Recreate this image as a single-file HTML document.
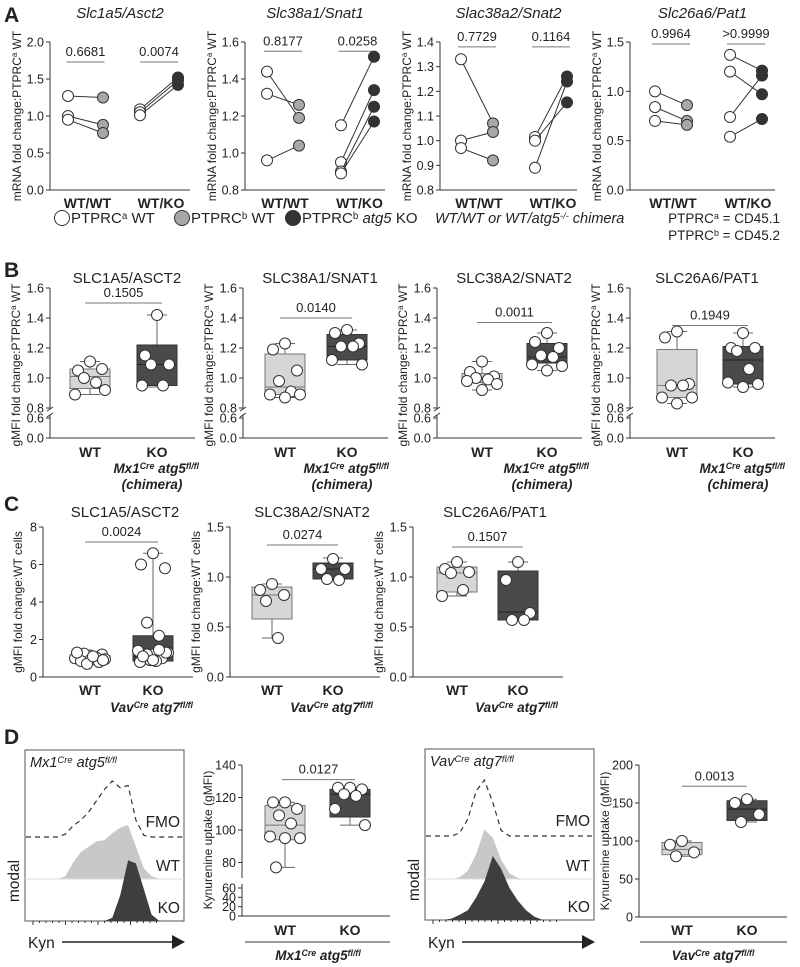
<!DOCTYPE html>
<html><head><meta charset="utf-8"><style>
html,body{margin:0;padding:0;background:#fff;}
svg{display:block;font-family:"Liberation Sans",Arial,sans-serif;}
</style></head><body>
<svg id="fig" width="800" height="967" viewBox="0 0 800 967" xmlns="http://www.w3.org/2000/svg"></svg>
<script>
// ---------- DATA ----------
const aTitles = ["Slc1a5/Asct2","Slc38a1/Snat1","Slac38a2/Snat2","Slc26a6/Pat1"];
const aP = [["0.6681","0.0074"],["0.8177","0.0258"],["0.7729","0.1164"],["0.9964",">0.9999"]];
const aPY = [1.73,1.55,1.38,1.48];
const aTicks = [[0,0.5,1.0,1.5,2.0],[0.8,1.0,1.2,1.4,1.6],[0.8,0.9,1.0,1.1,1.2,1.3,1.4],[0,0.5,1.0,1.5]];
const a1WT = [[1.27,1.25],[1.00,0.88],[0.95,0.77]];
const a1KO = [[1.09,1.52],[1.05,1.48],[1.01,1.42]];
const a2WT = [[1.44,1.19],[1.32,1.26],[0.96,1.04]];
const a2KO = [[1.15,1.52],[0.95,1.34],[0.90,1.25],[0.89,1.17]];
const a3WT = [[1.33,1.07],[1.00,1.035],[0.97,0.92]];
const a3KO = [[1.015,1.26],[1.00,1.155],[0.89,1.24]];
const a4WT = [[1.00,0.86],[0.84,0.70],[0.70,0.66]];
const a4KO = [[1.37,1.21],[1.20,0.97],[0.74,1.16],[0.54,0.72]];
const bTitles = ["SLC1A5/ASCT2","SLC38A1/SNAT1","SLC38A2/SNAT2","SLC26A6/PAT1"];
const bP = ["0.1505","0.0140","0.0011","0.1949"];
const bPY = [1.50,1.40,1.37,1.35];
const bBoxWT = [[0.89,0.93,1.01,1.06,1.11],[0.87,0.89,0.94,1.16,1.23],[0.92,0.97,0.99,1.03,1.11],[0.83,0.87,0.95,1.19,1.31]];
const bBoxKO = [[0.94,0.95,1.09,1.22,1.42],[1.09,1.12,1.21,1.29,1.32],[1.05,1.10,1.14,1.23,1.30],[0.94,0.96,1.12,1.21,1.30]];
const bPtsWT = [[1.11,1.05,1.06,1.00,0.97,0.89,0.92],[1.23,1.19,1.05,0.98,0.91,0.89,0.89,0.87],[1.11,1.04,1.01,1.00,0.99,0.98,0.96,0.92],[1.31,1.27,0.96,0.95,0.95,0.87,0.87,0.83]];
const bPtsKO = [[1.42,1.15,1.09,1.09,0.95,0.95],[1.32,1.30,1.23,1.21,1.21,1.12,1.09],[1.30,1.24,1.20,1.15,1.14,1.09,1.08,1.05],[1.30,1.20,1.20,1.18,1.06,0.97,0.96,0.94]];
const bTicksUp = [0.8,1.0,1.2,1.4,1.6];
const bTicksLow = [0.0,0.6];
const cTitles = ["SLC1A5/ASCT2","SLC38A2/SNAT2","SLC26A6/PAT1"];
const cP = ["0.0024","0.0274","0.1507"];
const cPY = [7.2,1.32,1.30];
const cMax = [8,1.5,1.5];
const cTicks = [[0,2,4,6,8],[0,0.5,1.0,1.5],[0,0.5,1.0,1.5]];
const cBoxWT = [[0.7,0.85,1.0,1.15,1.3],[0.39,0.58,0.82,0.90,0.93],[0.81,0.85,1.04,1.10,1.15]];
const cBoxKO = [[0.8,0.85,1.1,2.2,6.6],[0.97,0.98,1.08,1.14,1.19],[0.57,0.57,0.65,1.06,1.15]];
const cPtsWT = [[1.15,1.1,1.2,1.25,1.05,1.0,0.95,0.9,0.85,0.8,0.7,1.1,1.3,0.9],[0.93,0.87,0.82,0.76,0.39],[1.15,1.08,1.05,1.04,0.87,0.81]];
const cPtsKO = [[6.6,6.0,5.8,2.9,2.2,1.4,1.3,1.2,1.1,1.0,0.9,0.85,0.8,1.3,1.2,1.45,0.9,1.1],[1.18,1.08,1.08,0.98,0.97],[1.15,0.97,0.64,0.57,0.57]];
const dP = ["0.0127","0.0013"];
const dPY = [131,172];
const d1Box = [[77,94,103,115,117],[103,108,122,125,126]];
const d1Pts = [[117,117,113,109,104,96,95,95,77],[126,126,125,122,121,113,103]];
const d2Box = [[80,82,89,98,100],[125,127,142,153,155]];
const d2Pts = [[100,95,85,80],[155,150,135,125]];
const d1TicksUp = [80,100,120,140];
const d1TicksLow = [0,20,40,60];
const d2Ticks = [0,50,100,150,200];
const h1FMO = [0,0,0,0,0,0.05,0.2,0.3,0.45,0.65,0.85,1.0,0.88,0.92,0.3,0.03,0,0,0,0,0];
const h1WT  = [0,0,0,0,0,0.05,0.3,0.5,0.6,0.7,0.72,0.85,0.95,1.0,0.6,0.2,0.05,0,0,0,0];
const h1KO  = [0,0,0,0,0,0,0,0,0,0,0,0.05,0.4,0.95,0.9,0.5,0.1,0,0,0,0];
const h2FMO = [0,0,0,0,0.05,0.3,0.8,1.0,0.6,0.1,0,0,0,0,0,0,0,0,0,0,0];
const h2WT  = [0,0,0,0,0.03,0.15,0.45,0.9,0.75,0.35,0.1,0.02,0,0,0,0,0,0,0,0,0];
const h2KO  = [0,0,0,0.02,0.08,0.15,0.35,0.6,1.0,0.8,0.5,0.3,0.15,0.05,0,0,0,0,0,0,0];

// ---------- HELPERS ----------
const NS = "http://www.w3.org/2000/svg";
const svg = document.getElementById('fig');
const INK = "#222";
function el(tag, attrs, name) {
  const e = document.createElementNS(NS, tag);
  for (const k in attrs) e.setAttribute(k, attrs[k]);
  
  
  svg.appendChild(e);
  return e;
}
function txt(x, y, parts, o, name) {
  o = o || {};
  const t = el('text', {x: x, y: y, fill: INK, 'font-size': o.size || 12, 'text-anchor': o.anchor || 'start'}, name);
  if (o.weight) t.setAttribute('font-weight', o.weight);
  if (o.italic) t.setAttribute('font-style', 'italic');
  if (o.rot) t.setAttribute('transform', 'rotate(-90 ' + x + ' ' + y + ')');
  if (typeof parts === 'string') parts = [[parts]];
  parts.forEach(p => {
    const s = document.createElementNS(NS, 'tspan');
    s.textContent = p[0];
    if (p[1] === 'sup') { s.setAttribute('font-size', (o.size || 12) * 0.65); s.setAttribute('baseline-shift', '45%'); }
    t.appendChild(s);
  });
  return t;
}
function line(x1, y1, x2, y2, name, o) {
  o = o || {};
  return el('line', {x1: x1, y1: y1, x2: x2, y2: y2, stroke: o.c || '#333', 'stroke-width': o.w || 1, 'stroke-dasharray': o.dash || 'none'}, name);
}
function scale(d0, d1, p0, p1) { return v => p0 + (v - d0) / (d1 - d0) * (p1 - p0); }
function dot(x, y, fill, name) {
  return el('circle', {cx: x, cy: y, r: 5.5, fill: fill, stroke: '#333', 'stroke-width': 1}, name);
}
const jit = [0, -12, 12, -6, 6, -15, 15, 0, -9, 9, -3, 3, -13, 13, -6, 6, 0, -10];
function boxPlot(cx, y, box, pts, dark, name) {
  const w = 40, bw = 10;
  line(cx, y(box[0]), cx, y(box[4]), name + '-whisker', {c: '#666'});
  line(cx - bw, y(box[0]), cx + bw, y(box[0]), name + '-cap-min', {c: '#666'});
  line(cx - bw, y(box[4]), cx + bw, y(box[4]), name + '-cap-max', {c: '#666'});
  el('rect', {x: cx - w / 2, y: y(box[3]), width: w, height: Math.max(1, y(box[1]) - y(box[3])), fill: dark ? '#4a4a4a' : '#d6d6d6', stroke: dark ? '#333' : '#777', 'stroke-width': 1}, name + '-box');
  line(cx - w / 2, y(box[2]), cx + w / 2, y(box[2]), name + '-median', {c: dark ? '#222' : '#777'});
  pts.forEach((v, i) => { dot(cx + jit[i % jit.length], y(v), '#fff', name + '-point'); });
}
function yAxis(ax, ticks, y, fmt, name) {
  ticks.forEach(v => {
    line(ax - 4, y(v), ax, y(v), name + '-tick');
    txt(ax - 6, y(v) + 4.5, fmt(v), {anchor: 'end', size: 12.5}, name + '-tick-label');
  });
}
function sig(x1, x2, yy, label, name) {
  line(x1, yy, x2, yy, name + '-bar', {c: '#777'});
  txt((x1 + x2) / 2, yy - 6, label, {anchor: 'middle', size: 13}, name + '-pvalue');
}
function brk(ax, yb, name) {
  el('rect', {x: ax - 3, y: yb - 3, width: 6, height: 6, fill: '#fff'}, name + '-gap');
  line(ax - 3, yb - 1, ax + 3, yb - 5, name + '-break-mark');
  line(ax - 3, yb + 5, ax + 3, yb + 1, name + '-break-mark');
}
function hist(x0, x1, base, maxH, arr, style, name) {
  const step = (x1 - x0) / (arr.length - 1);
  let d = '';
  arr.forEach((h, i) => { d += (i ? 'L' : 'M') + (x0 + i * step).toFixed(1) + ' ' + (base - h * maxH).toFixed(1); });
  if (style === 'dash') {
    el('path', {d: d, fill: 'none', stroke: '#333', 'stroke-width': 1.2, 'stroke-dasharray': '5,4'}, name);
  } else {
    d += 'L' + x1 + ' ' + base + 'L' + x0 + ' ' + base + 'Z';
    el('path', {d: d, fill: style, stroke: 'none'}, name);
  }
}

// ---------- PANEL A ----------
txt(4, 22, 'A', {size: 21, weight: 'bold'}, 'panel-label-a');
const aLayout = [
  {ax: 50, end: 190, px: [[68, 103], [140, 178]]},
  {ax: 245, end: 385, px: [[267, 299], [341, 374]]},
  {ax: 440, end: 577, px: [[461, 493], [535, 567]]},
  {ax: 630, end: 775, px: [[655, 687], [730, 762]]}];
const aData = [[a1WT, a1KO], [a2WT, a2KO], [a3WT, a3KO], [a4WT, a4KO]];
aLayout.forEach((L, k) => {
  const tk = aTicks[k];
  const y = scale(tk[0], tk[tk.length - 1], 190, 42);
  const nm = 'a' + (k + 1);
  line(L.ax, 42, L.ax, 190, nm + '-y-axis');
  line(L.ax, 190, L.end, 190, nm + '-x-axis');
  yAxis(L.ax, tk, y, v => v.toFixed(1), nm + '-y');
  txt(L.ax - 29, 116, [['mRNA fold change:PTPRC'], ['a', 'sup'], [' WT']], {anchor: 'middle', size: 12, rot: true}, nm + '-y-axis-title');
  txt((L.ax + L.end) / 2, 18, aTitles[k], {anchor: 'middle', size: 15, italic: true}, nm + '-title');
  ['WT/WT', 'WT/KO'].forEach((c, g) => {
    const p = L.px[g], mid = (p[0] + p[1]) / 2;
    txt(mid + 2, 208, c, {anchor: 'middle', size: 14, weight: 'bold'}, nm + '-x-label');
    sig(mid - 19, mid + 19, y(aPY[k]), aP[k][g], nm + '-sig-' + g);
    aData[k][g].forEach(pr => {
      line(p[0], y(pr[0]), p[1], y(pr[1]), nm + '-pair-line');
      dot(p[0], y(pr[0]), '#fff', nm + '-ptprca-point');
      dot(p[1], y(pr[1]), g ? '#333' : '#a8a8a8', nm + '-ptprcb-point');
    });
  });
});
const lg = [[62, '#fff', 'WT', false], [182, '#a8a8a8', 'WT', false], [293, '#333', 'atg5 KO', true]];
lg.forEach((e, i) => {
  el('circle', {cx: e[0], cy: 218, r: 7.5, fill: e[1], stroke: '#333', 'stroke-width': 1}, 'legend-marker');
  const sup = i === 0 ? 'a' : 'b';
  const parts = [['PTPRC'], [sup, 'sup']];
  if (e[3]) { parts.push([' ']); }
  const t = txt(e[0] + 9, 223, parts.concat(e[3] ? [] : [[' ' + e[2]]]), {size: 15}, 'legend-entry');
  if (e[3]) {
    const s1 = document.createElementNS(NS, 'tspan'); s1.textContent = 'atg5'; s1.setAttribute('font-style', 'italic'); t.appendChild(s1);
    const s2 = document.createElementNS(NS, 'tspan'); s2.textContent = ' KO'; t.appendChild(s2);
  }
});
txt(435, 223, [['WT/WT or WT/atg5'], ['-/-', 'sup'], [' chimera']], {size: 14.5, italic: true}, 'legend-chimera-note');
txt(780, 223, [['PTPRC'], ['a', 'sup'], [' = CD45.1']], {size: 13.5, anchor: 'end'}, 'legend-cd451');
txt(780, 240, [['PTPRC'], ['b', 'sup'], [' = CD45.2']], {size: 13.5, anchor: 'end'}, 'legend-cd452');

// ---------- PANEL B ----------
txt(4, 277, 'B', {size: 21, weight: 'bold'}, 'panel-label-b');
const bAx = [50, 243, 437, 630];
const bCats = [[90, 157], [285, 347], [482, 547], [677, 743]];
const yB = v => v >= 0.8 ? 408 - (v - 0.8) * 150 : 438 - v / 0.6 * 20;
bAx.forEach((ax, k) => {
  const nm = 'b' + (k + 1), end = ax + 145;
  line(ax, 288, ax, 438, nm + '-y-axis');
  line(ax, 438, end, 438, nm + '-x-axis');
  brk(ax, 412, nm);
  yAxis(ax, bTicksUp.concat(bTicksLow), yB, v => v.toFixed(1), nm + '-y');
  txt(ax - 30, 365, [['gMFI fold change:PTPRC'], ['a', 'sup'], [' WT']], {anchor: 'middle', size: 12, rot: true}, nm + '-y-axis-title');
  txt(ax + 77, 283, bTitles[k], {anchor: 'middle', size: 15}, nm + '-title');
  const c = bCats[k];
  sig(c[0] - 5, c[1] + 5, yB(bPY[k]), bP[k], nm + '-sig');
  boxPlot(c[0], yB, bBoxWT[k], bPtsWT[k], false, nm + '-wt');
  boxPlot(c[1], yB, bBoxKO[k], bPtsKO[k], true, nm + '-ko');
  txt(c[0], 457, 'WT', {anchor: 'middle', size: 14, weight: 'bold'}, nm + '-x-label-wt');
  txt(c[1], 457, 'KO', {anchor: 'middle', size: 14, weight: 'bold'}, nm + '-x-label-ko');
  txt(c[1] + 42, 473, [['Mx1'], ['Cre', 'sup'], [' atg5'], ['fl/fl', 'sup']], {anchor: 'end', size: 13.5, weight: 'bold', italic: true}, nm + '-genotype');
  txt(c[1] - 5, 489, '(chimera)', {anchor: 'middle', size: 13.5, weight: 'bold', italic: true}, nm + '-chimera');
});

// ---------- PANEL C ----------
txt(4, 511, 'C', {size: 21, weight: 'bold'}, 'panel-label-c');
const cAx = [43, 230, 413];
const cCats = [[90, 153], [272, 333], [457, 518]];
cAx.forEach((ax, k) => {
  const nm = 'c' + (k + 1), end = ax + 150;
  const y = scale(0, cMax[k], 677, 527);
  line(ax, 527, ax, 677, nm + '-y-axis');
  line(ax, 677, end, 677, nm + '-x-axis');
  yAxis(ax, cTicks[k], y, v => k === 0 ? String(v) : v.toFixed(1), nm + '-y');
  txt(ax - (k === 0 ? 21 : 30), 602, 'gMFI fold change:WT cells', {anchor: 'middle', size: 12, rot: true}, nm + '-y-axis-title');
  txt(ax + 82, 517, cTitles[k], {anchor: 'middle', size: 15}, nm + '-title');
  const c = cCats[k];
  sig(c[0] - 5, c[1] + 5, y(cPY[k]), cP[k], nm + '-sig');
  boxPlot(c[0], y, cBoxWT[k], cPtsWT[k], false, nm + '-wt');
  boxPlot(c[1], y, cBoxKO[k], cPtsKO[k], true, nm + '-ko');
  txt(c[0], 695, 'WT', {anchor: 'middle', size: 14, weight: 'bold'}, nm + '-x-label-wt');
  txt(c[1], 695, 'KO', {anchor: 'middle', size: 14, weight: 'bold'}, nm + '-x-label-ko');
  txt(c[1] + 40, 712, [['Vav'], ['Cre', 'sup'], [' atg7'], ['fl/fl', 'sup']], {anchor: 'end', size: 13.5, weight: 'bold', italic: true}, nm + '-genotype');
});

// ---------- PANEL D ----------
txt(4, 744, 'D', {size: 21, weight: 'bold'}, 'panel-label-d');
function histPanel(x0, x1, top, bot, fmoB, wtB, fmo, wt, ko, geno, nm) {
  el('rect', {x: x0, y: top, width: x1 - x0, height: bot - top, fill: '#fff', stroke: '#555', 'stroke-width': 1}, nm + '-frame');
  hist(x0 + 1, x1 - 1, wtB, (wtB - fmoB) + 12, wt, '#c8c8c8', nm + '-wt-histogram');
  line(x0, wtB, x1, wtB, nm + '-wt-baseline', {c: '#ddd'});
  hist(x0 + 1, x1 - 1, bot, 64, ko, '#3e3e3e', nm + '-ko-histogram');
  hist(x0 + 1, x1 - 1, fmoB, 56, fmo, 'dash', nm + '-fmo-histogram');
  txt(x1 - 4, fmoB - 10, 'FMO', {anchor: 'end', size: 15.5}, nm + '-fmo-label');
  txt(x1 - 4, wtB - 8, 'WT', {anchor: 'end', size: 15.5}, nm + '-wt-label');
  txt(x1 - 4, bot - 8, 'KO', {anchor: 'end', size: 15.5}, nm + '-ko-label');
  txt(x0 + 5, top + 17, geno, {size: 14.5, italic: true}, nm + '-genotype');
  for (let i = 0; i < 20; i++) line(x0 + 8 + i * 6.5, bot, x0 + 8 + i * 6.5, bot + (i % 5 ? 2 : 4), nm + '-x-tick');
  txt(x0 - 6, bot - 40, 'modal', {anchor: 'middle', size: 15.5, rot: true}, nm + '-y-axis-title');
  txt(x0 + 3, 948, 'Kyn', {size: 15.5}, nm + '-x-axis-title');
  line(x0 + 37, 942, x1 - 10, 942, nm + '-kyn-arrow-line', {c: '#222', w: 1.5});
  el('polygon', {points: (x1 - 12) + ',935 ' + (x1 + 1) + ',942 ' + (x1 - 12) + ',949', fill: '#222'}, nm + '-kyn-arrowhead');
}
histPanel(25, 184, 750, 921, 837, 879, h1FMO, h1WT, h1KO, [['Mx1'], ['Cre', 'sup'], [' atg5'], ['fl/fl', 'sup']], 'd1-hist');
histPanel(425, 594, 749, 920, 836, 879, h2FMO, h2WT, h2KO, [['Vav'], ['Cre', 'sup'], [' atg7'], ['fl/fl', 'sup']], 'd2-hist');

const yD1 = v => v >= 70 ? 830 - (v - 100) * 32.5 / 20 : 916 - v / 60 * 28;
line(242, 765, 242, 878, 'd1-y-axis-upper');
line(242, 884, 242, 916, 'd1-y-axis-lower');
line(242, 916, 390, 916, 'd1-x-axis');
yAxis(242, d1TicksUp.concat(d1TicksLow), yD1, v => String(v), 'd1-y');
txt(212, 840, 'Kynurenine uptake (gMFI)', {anchor: 'middle', size: 12, rot: true}, 'd1-y-axis-title');
sig(282, 355, yD1(dPY[0]), dP[0], 'd1-sig');
boxPlot(285, yD1, d1Box[0], d1Pts[0], false, 'd1-wt');
boxPlot(350, yD1, d1Box[1], d1Pts[1], true, 'd1-ko');
txt(285, 935, 'WT', {anchor: 'middle', size: 14, weight: 'bold'}, 'd1-x-label-wt');
txt(350, 935, 'KO', {anchor: 'middle', size: 14, weight: 'bold'}, 'd1-x-label-ko');
line(245, 942, 390, 942, 'd1-group-underline', {c: '#333'});
txt(318, 960, [['Mx1'], ['Cre', 'sup'], [' atg5'], ['fl/fl', 'sup']], {anchor: 'middle', size: 13.5, weight: 'bold', italic: true}, 'd1-genotype-label');

const yD2 = scale(0, 200, 917, 765);
line(639, 765, 639, 917, 'd2-y-axis');
line(639, 917, 787, 917, 'd2-x-axis');
yAxis(639, d2Ticks, yD2, v => String(v), 'd2-y');
txt(609, 841, 'Kynurenine uptake (gMFI)', {anchor: 'middle', size: 12, rot: true}, 'd2-y-axis-title');
sig(682, 747, yD2(dPY[1]), dP[1], 'd2-sig');
boxPlot(682, yD2, d2Box[0], d2Pts[0], false, 'd2-wt');
boxPlot(747, yD2, d2Box[1], d2Pts[1], true, 'd2-ko');
txt(682, 935, 'WT', {anchor: 'middle', size: 14, weight: 'bold'}, 'd2-x-label-wt');
txt(747, 935, 'KO', {anchor: 'middle', size: 14, weight: 'bold'}, 'd2-x-label-ko');
line(640, 942, 787, 942, 'd2-group-underline', {c: '#333'});
txt(713, 960, [['Vav'], ['Cre', 'sup'], [' atg7'], ['fl/fl', 'sup']], {anchor: 'middle', size: 13.5, weight: 'bold', italic: true}, 'd2-genotype-label');
</script>
</body></html>
